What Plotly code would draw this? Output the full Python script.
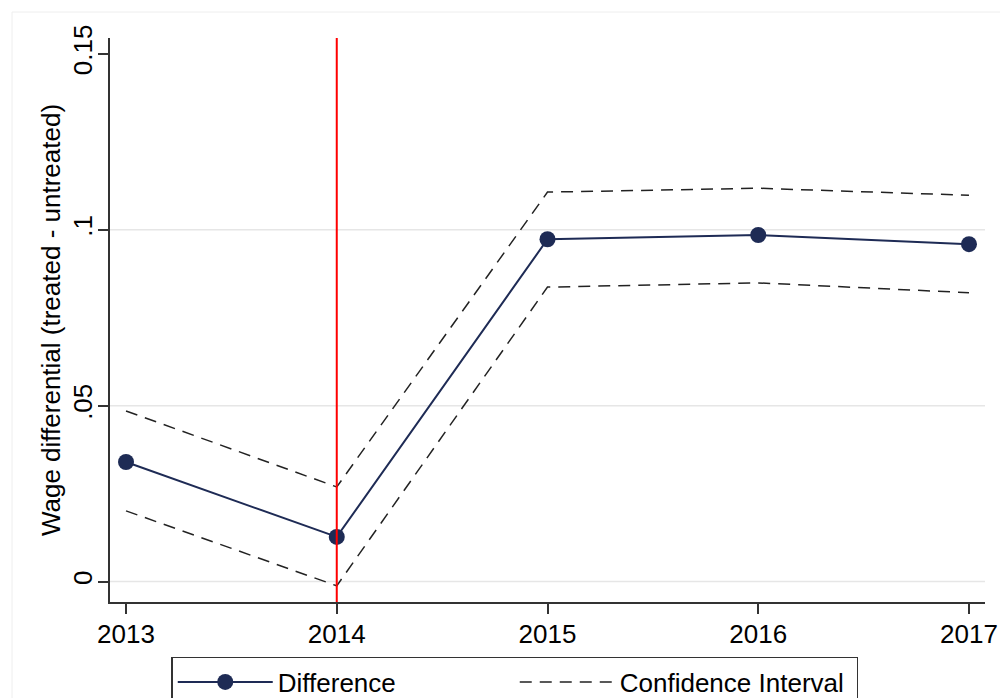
import plotly.graph_objects as go

years = [2013, 2014, 2015, 2016, 2017]
difference = [0.0340, 0.0127, 0.0973, 0.0985, 0.0959]
ci_upper = [0.0485, 0.0269, 0.1107, 0.1118, 0.1098]
ci_lower = [0.0201, -0.0012, 0.0837, 0.0849, 0.0821]
ytick_vals = [0, 0.05, 0.1, 0.15]
ytick_text = ["0", ".05", ".1", "0.15"]
grid_vals = [0, 0.05, 0.1]
treat_year = 2014

navy = "#1e2b55"
font = "Arial, Liberation Sans, sans-serif"

fig = go.Figure()
fig.add_trace(go.Scatter(
    x=years, y=difference, mode="lines+markers", name="Difference",
    line=dict(color=navy, width=2), marker=dict(color=navy, size=16)))
fig.add_trace(go.Scatter(
    x=years, y=ci_upper, mode="lines", name="Confidence Interval",
    line=dict(color="#222222", width=1.5, dash="12px,8px")))
fig.add_trace(go.Scatter(
    x=years, y=ci_lower, mode="lines", name="Confidence Interval", showlegend=False,
    line=dict(color="#222222", width=1.5, dash="12px,8px")))

shapes = []
for g in grid_vals:
    shapes.append(dict(type="line", xref="paper", yref="y", x0=0, x1=1, y0=g, y1=g,
                       line=dict(color="#e6e6e6", width=1.5), layer="below"))
shapes.append(dict(type="line", xref="x", yref="paper", x0=treat_year, x1=treat_year,
                   y0=0, y1=1, line=dict(color="#ff0000", width=2), layer="above"))
shapes.append(dict(type="rect", xref="paper", yref="paper", x0=-0.112, x1=1.02,
                   y0=-0.3, y1=1.046, line=dict(color="#eeeeee", width=1), layer="below"))

fig.update_layout(
    width=1000, height=698,
    margin=dict(l=110, r=15, t=38, b=96, autoexpand=False),
    paper_bgcolor="white", plot_bgcolor="white",
    font=dict(family=font, size=26, color="black"),
    shapes=shapes,
    showlegend=True,
    legend=dict(orientation="h", x=0.070, y=-0.0975, xanchor="left", yanchor="top",
                bordercolor="#333333", borderwidth=1.5, bgcolor="white",
                font=dict(size=26), itemwidth=95, entrywidth=232,
                traceorder="normal"),
)
fig.update_xaxes(
    range=[2012.924, 2017.076], tickvals=years, ticktext=[str(y) for y in years],
    showgrid=False, zeroline=False, showline=True, linecolor="#333333", linewidth=1.5,
    ticks="outside", ticklen=10, tickwidth=1.5, tickcolor="#333333",
    tickfont=dict(size=26), ticklabelstandoff=-2)
fig.update_yaxes(
    range=[-0.0058, 0.1545], tickvals=ytick_vals, ticktext=ytick_text,
    tickangle=-90, showgrid=False, zeroline=False, showline=True,
    linecolor="#333333", linewidth=1.5,
    ticks="outside", ticklen=10, tickwidth=1.5, tickcolor="#333333",
    tickfont=dict(size=26), ticklabelstandoff=-4,
    title=dict(text="Wage differential (treated - untreated)", font=dict(size=26), standoff=0))

fig.write_html("out.html")
